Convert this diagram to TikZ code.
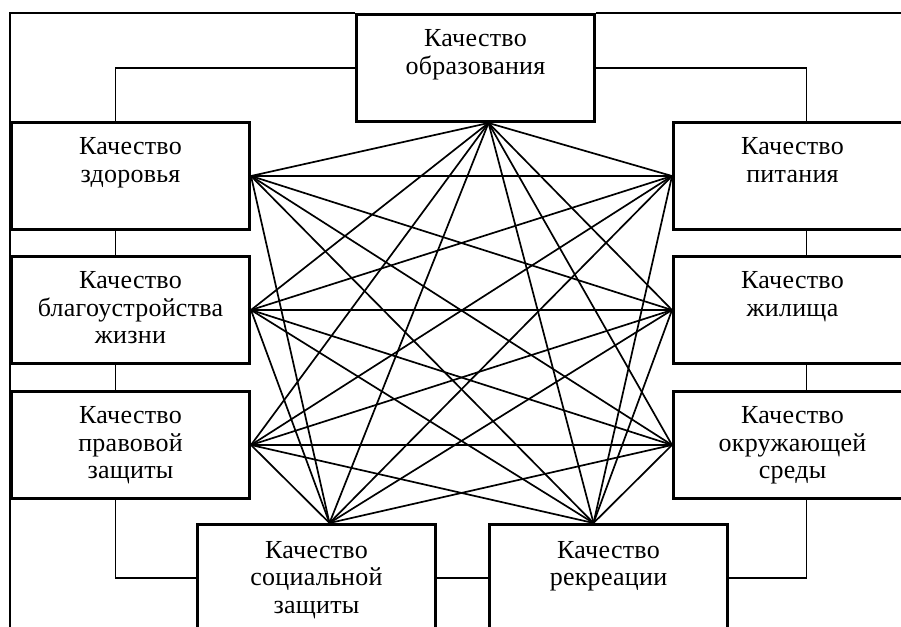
\documentclass[tikz,border=0pt]{standalone}
\usepackage{fontspec}
\setmainfont{Liberation Serif}
\begin{document}
\begin{tikzpicture}[x=1pt,y=-1pt,
  qbox/.style={draw, line width=3pt, rectangle, minimum width=238pt, minimum height=107pt, inner sep=0pt, anchor=north west},
  qtxt/.style={align=center, inner sep=0pt, anchor=north, font=\fontsize{26}{27.5}\selectfont\addfontfeature{LetterSpace=1}},
  fan/.style={line width=1.7pt},
  conn/.style={line width=1.2pt}]
\useasboundingbox (0,0) rectangle (901,626);
\clip (0,0) rectangle (901,626);
% boxes
\node[qbox] (E) at (355,13) {};
\node[qbox] (H) at (10,121) {};
\node[qbox] (B) at (10,255) {};
\node[qbox] (L) at (10,390) {};
\node[qbox] (P) at (672,121) {};
\node[qbox] (Z) at (672,255) {};
\node[qbox] (O) at (672,390) {};
\node[qbox] (S) at (196,523) {};
\node[qbox] (R) at (488,523) {};
% texts
\node[qtxt] (tE) at ([yshift=-14.5pt]E.north) {\strut Качество\\образования};
\node[qtxt] (tH) at ([yshift=-14.5pt]H.north) {\strut Качество\\здоровья};
\node[qtxt] (tB) at ([yshift=-14.5pt]B.north) {\strut Качество\\благоустройства\\жизни};
\node[qtxt] (tL) at ([yshift=-14.5pt]L.north) {\strut Качество\\правовой\\защиты};
\node[qtxt] (tP) at ([yshift=-14.5pt]P.north) {\strut Качество\\питания};
\node[qtxt] (tZ) at ([yshift=-14.5pt]Z.north) {\strut Качество\\жилища};
\node[qtxt] (tO) at ([yshift=-14.5pt]O.north) {\strut Качество\\окружающей\\среды};
\node[qtxt] (tS) at ([yshift=-16pt]S.north) {\strut Качество\\социальной\\защиты};
\node[qtxt] (tR) at ([yshift=-16pt]R.north) {\strut Качество\\рекреации};
% fan points
\coordinate (e) at ([xshift=13pt]E.south);
\coordinate (h) at (H.east);
\coordinate (b) at (B.east);
\coordinate (l) at (L.east);
\coordinate (p) at (P.west);
\coordinate (z) at (Z.west);
\coordinate (o) at (O.west);
\coordinate (s) at ([xshift=13pt]S.north);
\coordinate (r) at ([xshift=-15pt]R.north);
\foreach \a in {h,b,l,p,z,o,s,r} \draw[fan] (e) -- (\a);
\foreach \a in {h,b,l} \foreach \c in {p,z,o,s,r} \draw[fan] (\a) -- (\c);
\foreach \a in {p,z,o} \foreach \c in {s,r} \draw[fan] (\a) -- (\c);
% outer frame
\coordinate (fb) at (10,640);
\coordinate (fr) at (915,13);
\draw[conn] (fb) -- (fb |- E.north) -- (E.north west);
\draw[conn] (E.north east) -- (fr);
% connectors
\coordinate (cl) at ([xshift=-15pt]H.north);
\coordinate (cr) at ([xshift=14pt]P.north);
\draw[conn] (E.west) -| (cl);
\draw[conn] (E.east) -| (cr);
\draw[conn] (H.south -| cl) -- (B.north -| cl);
\draw[conn] (B.south -| cl) -- (L.north -| cl);
\draw[conn] (L.south -| cl) |- (S.west);
\draw[conn] (S.east) -- (R.west);
\draw[conn] (P.south -| cr) -- (Z.north -| cr);
\draw[conn] (Z.south -| cr) -- (O.north -| cr);
\draw[conn] (O.south -| cr) |- (R.east);
\end{tikzpicture}
\end{document}
